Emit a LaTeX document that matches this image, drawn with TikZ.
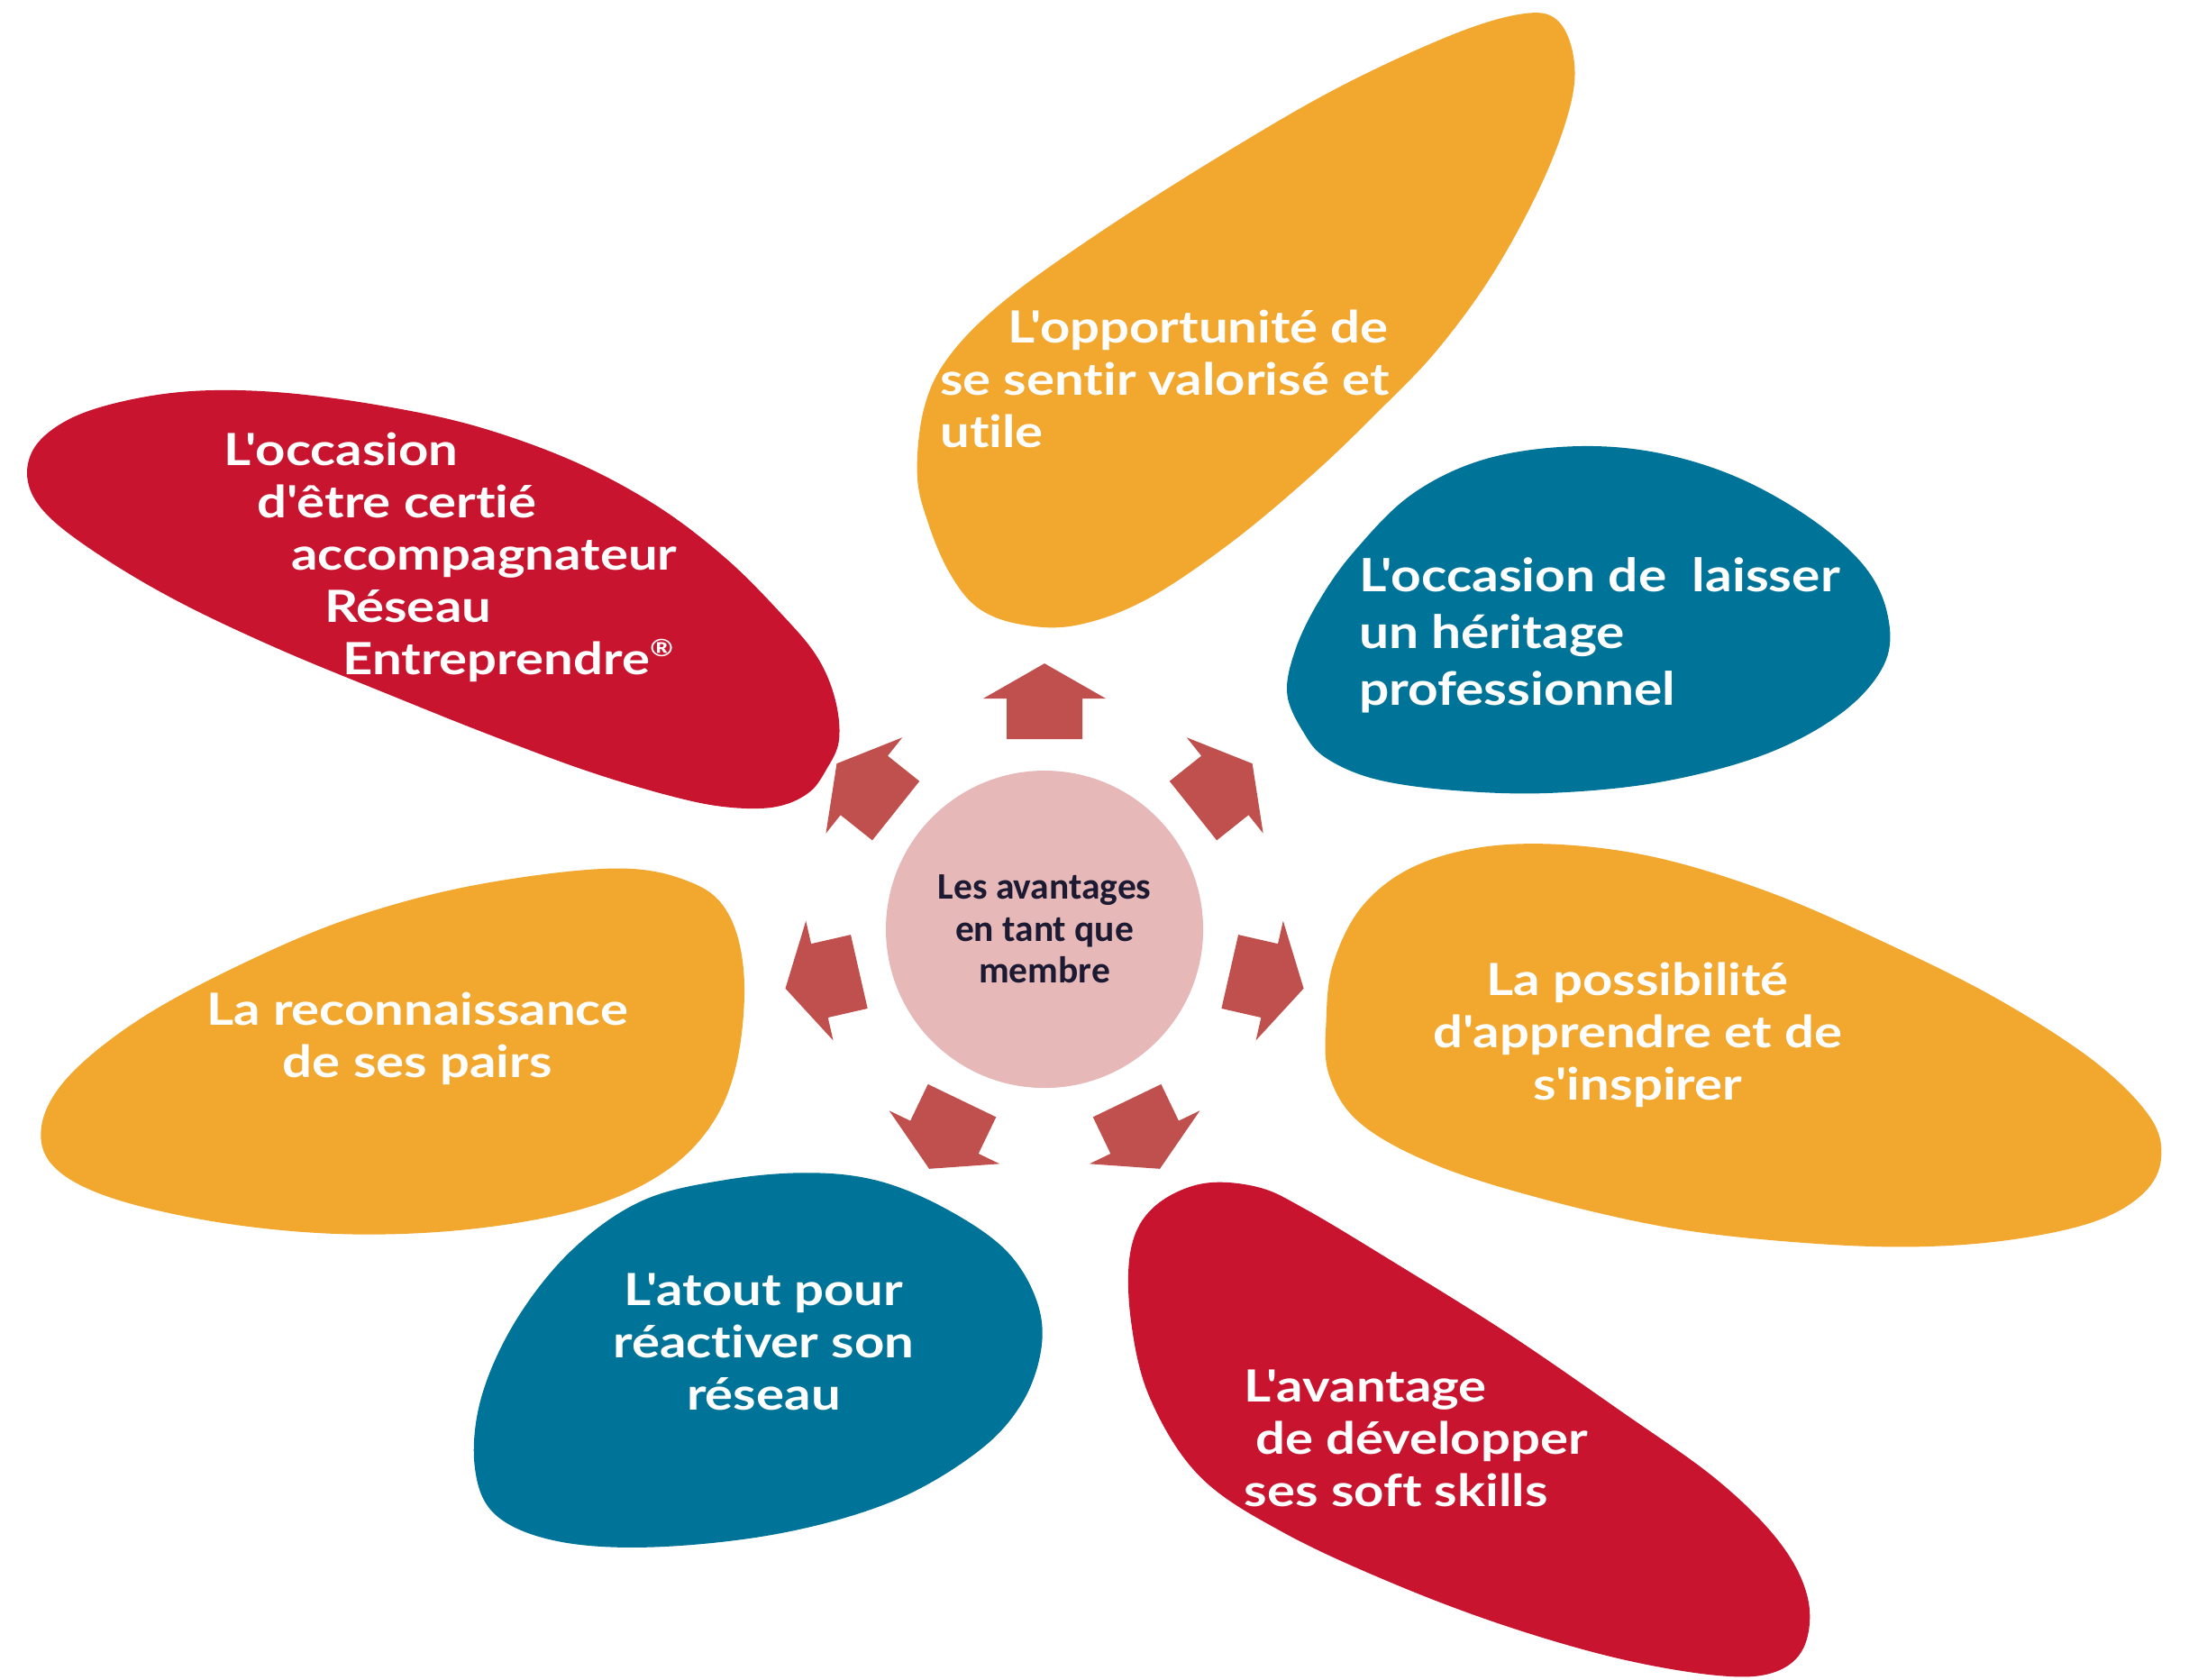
\documentclass[tikz,border=0pt]{standalone}
\usepackage{fontspec}
\setmainfont{Lato}
\newfontfamily\blobfont{Lato}[Ligatures=NoCommon, FakeStretch=1.18]
\newfontfamily\blobfontb{Lato}[Ligatures=NoCommon, FakeStretch=1.15]
\newfontfamily\centerfont{Carlito}
\newcommand\ap{\char39\relax}
\definecolor{rr}{RGB}{200,20,46}
\definecolor{yy}{RGB}{242,167,46}
\definecolor{bb}{RGB}{0,116,152}
\definecolor{arc}{RGB}{192,80,77}
\definecolor{ci}{RGB}{230,184,183}
\definecolor{tx}{RGB}{28,26,50}
\tikzset{
  blobtext/.style={text=white, inner sep=0pt, font=\blobfont\bfseries\fontsize{14}{16.5}\selectfont},
  blob/.style={smooth cycle, tension=0.6},
  arrowshape/.style={fill=arc}
}
\begin{document}
\begin{tikzpicture}[x=0.01549cm, y=-0.01549cm]
\useasboundingbox (0,0) rectangle (1568,1203);
% blobs
\fill[yy] plot[blob] coordinates {(657,340) (662,292) (680,255) (720,215) (790,165) (880,108) (960,62) (1040,25) (1090,10) (1115,14) (1127,40) (1125,75) (1105,130) (1070,195) (1030,250) (990,292) (940,340) (880,390) (820,430) (770,448) (730,447) (700,435) (680,410) (665,375)};
\fill[rr] plot[blob] coordinates {(20,345) (25,320) (50,300) (90,287) (140,280) (200,281) (270,290) (340,305) (410,330) (470,362) (520,400) (560,440) (585,470) (598,500) (601,530) (592,551) (579,568) (555,578) (520,578) (480,570) (420,552) (350,526) (280,498) (200,465) (130,432) (75,400) (35,370)};
\fill[bb] plot[blob] coordinates {(950,543) (985,558) (1040,566) (1110,568) (1190,560) (1265,540) (1320,510) (1350,475) (1352,440) (1335,405) (1295,370) (1240,340) (1180,323) (1120,320) (1060,330) (1010,355) (970,395) (945,430) (928,465) (922,497) (934,525)};
\fill[yy] plot[blob] coordinates {(955,690) (975,650) (1010,622) (1060,607) (1120,605) (1190,615) (1270,640) (1350,675) (1430,715) (1500,760) (1540,800) (1548,830) (1535,855) (1500,875) (1440,888) (1370,893) (1290,890) (1200,880) (1110,860) (1030,835) (975,805) (952,770) (950,730)};
\fill[rr] plot[blob] coordinates {(826,865) (860,848) (900,850) (935,866) (1000,905) (1080,955) (1160,1010) (1230,1060) (1275,1105) (1295,1145) (1292,1180) (1270,1198) (1230,1200) (1160,1188) (1080,1165) (1000,1135) (920,1098) (860,1058) (824,1002) (810,945) (810,895)};
\fill[bb] plot[blob] coordinates {(520,845) (580,840) (630,846) (678,866) (720,895) (742,930) (746,965) (732,1005) (700,1040) (640,1075) (560,1098) (470,1108) (400,1104) (355,1085) (340,1050) (345,1000) (370,945) (410,895) (460,860)};
\fill[yy] plot[blob] coordinates {(440,622) (495,632) (522,655) (533,700) (528,760) (510,805) (475,840) (420,865) (340,880) (250,884) (160,876) (80,858) (38,835) (30,805) (50,770) (100,730) (170,692) (250,658) (340,634)};
% arrows
\foreach \a in {90,38.571,-12.857,-64.286,-115.714,-167.143,141.429}{
  \fill[arrowshape, shift={(748.2,665.6)}, rotate=\a-90]
    (-27.1,-136.2) -- (-27.1,-165.3) -- (-43.9,-165.3) -- (0,-190.4)
    -- (43.9,-165.3) -- (27.1,-165.3) -- (27.1,-136.2) -- cycle;
}
% centre
\node (C) [circle, fill=ci, minimum size=3.52cm, inner sep=0pt, text=tx,
  align=center, font=\centerfont\bfseries\fontsize{11.8}{13.2}\selectfont]
  at (748.2,665.6) {Les avantages\\en tant que\\membre};
% texts
\node (t1) [blobtext, anchor=west, align=left] at (673,271.5)
  {\hspace*{21.5pt}L\ap{}opportunité de\\se sentir valorisé et\\utile};
\node (t2) [blobtext, anchor=west, align=left] at (160,399)
  {L\ap{}occasion\\\hspace*{10.6pt}d\ap{}être certié\\\hspace*{21.2pt}accompagnateur\\\hspace*{31.7pt}Réseau\\\hspace*{37.5pt}Entreprendre\raisebox{5.5pt}{\fontsize{7.5}{8}\selectfont ®}};
\node (t3) [blobtext, anchor=west, align=left, font=\blobfontb\bfseries\fontsize{14.5}{18}\selectfont] at (973,455)
  {L\ap{}occasion de\ \ laisser\\un héritage\\professionnel};
\node (t4) [blobtext, align=center] at (1173,741)
  {La possibilité\\d\ap{}apprendre et de\\s\ap{}inspirer};
\node (t5) [blobtext, anchor=west, align=left] at (891,1030)
  {L\ap{}avantage\\\hspace*{3.5pt}de développer\\ses soft skills};
\node (t6) [blobtext, align=center] at (547,961)
  {L\ap{}atout pour\\réactiver son\\réseau};
\node (t7) [blobtext, align=center] at (299,744)
  {La reconnaissance\\de ses pairs};
\end{tikzpicture}
\end{document}
